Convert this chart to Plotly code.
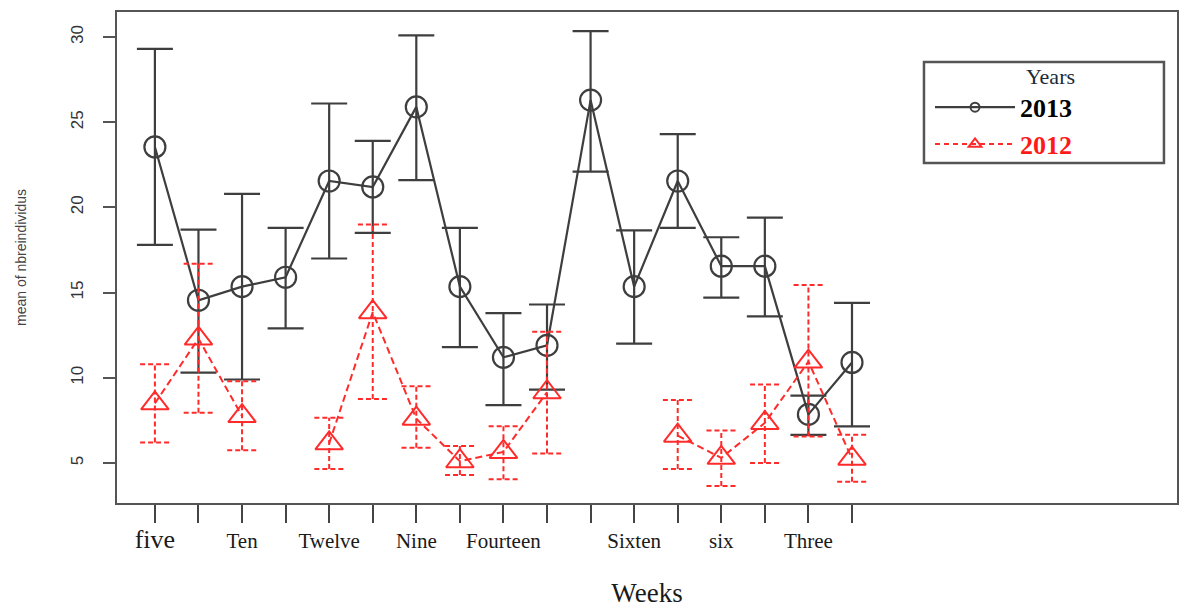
import plotly.graph_objects as go

# ---- data ----
weeks_pos = list(range(1, 18))
week_labels = ["five", "", "Ten", "", "Twelve", "", "Nine", "", "Fourteen", "", "",
               "Sixten", "", "six", "", "Three", ""]

mean_2013 = [23.55, 14.55, 15.35, 15.9, 21.55, 21.2, 25.9, 15.35, 11.2, 11.9, 26.3,
             15.35, 21.55, 16.55, 16.55, 7.85, 10.9]
upper_2013 = [29.3, 18.7, 20.8, 18.8, 26.1, 23.9, 30.1, 18.8, 13.8, 14.3, 30.35,
              18.65, 24.3, 18.25, 19.4, 8.95, 14.4]
lower_2013 = [17.8, 10.3, 9.9, 12.9, 17.0, 18.5, 21.6, 11.8, 8.4, 9.3, 22.1,
              12.0, 18.8, 14.7, 13.6, 6.65, 7.15]

mean_2012 = [8.5, 12.3, 7.75, None, 6.15, 13.85, 7.6, 5.1, 5.65, 9.15, None,
             None, 6.6, 5.3, 7.35, 10.95, 5.25]
upper_2012 = [10.8, 16.7, 9.8, None, 7.65, 19.0, 9.5, 6.0, 7.15, 12.7, None,
              None, 8.7, 6.9, 9.6, 15.45, 6.65]
lower_2012 = [6.2, 7.95, 5.75, None, 4.65, 8.75, 5.9, 4.3, 4.05, 5.55, None,
              None, 4.65, 3.65, 5.0, 6.55, 3.9]

y_ticks = [5, 10, 15, 20, 25, 30]

BLACK = "#3e3e3e"
RED = "#ff2b2b"
SERIF = "Liberation Serif"
SANS = "Liberation Sans"

fig = go.Figure()

# 2013 series with native error bars
fig.add_trace(go.Scatter(
    x=weeks_pos, y=mean_2013, mode="lines+markers", showlegend=False,
    line=dict(color=BLACK, width=2.2),
    marker=dict(symbol="circle-open", size=21, color=BLACK, line=dict(width=2.2)),
    error_y=dict(type="data", symmetric=False,
                 array=[u - m for u, m in zip(upper_2013, mean_2013)],
                 arrayminus=[m - l for m, l in zip(mean_2013, lower_2013)],
                 color=BLACK, thickness=2.2, width=18),
))

# 2012 dashed error bars, built from the data arrays
cap = 0.34
ex, ey = [], []
for xp, lo, hi in zip(weeks_pos, lower_2012, upper_2012):
    if lo is None:
        continue
    ex += [xp, xp, None, xp - cap, xp + cap, None, xp - cap, xp + cap, None]
    ey += [lo, hi, None, hi, hi, None, lo, lo, None]
fig.add_trace(go.Scatter(
    x=ex, y=ey, mode="lines", showlegend=False, hoverinfo="skip",
    line=dict(color=RED, width=2, dash="5px,3px"),
))

# 2012 series
fig.add_trace(go.Scatter(
    x=weeks_pos, y=mean_2012, mode="lines+markers", showlegend=False,
    connectgaps=False,
    line=dict(color=RED, width=2, dash="7px,4px"),
    marker=dict(symbol="triangle-up-open", size=24, color=RED, line=dict(width=2)),
))

# legend entries
fig.add_trace(go.Scatter(
    x=[None], y=[None], mode="lines+markers", name="<b>2013</b>",
    line=dict(color=BLACK, width=2.2),
    marker=dict(symbol="circle-open", size=9, color=BLACK, line=dict(width=2)),
))
fig.add_trace(go.Scatter(
    x=[None], y=[None], mode="lines+markers",
    name="<span style='color:#ff1a1a'><b>2012</b></span>",
    line=dict(color=RED, width=2, dash="5px,4px"),
    marker=dict(symbol="triangle-up-open", size=11, color=RED, line=dict(width=2)),
))

fig.update_layout(
    width=1180, height=608,
    margin=dict(l=117, r=3, t=12, b=105, autoexpand=False),
    plot_bgcolor="white", paper_bgcolor="white",
    showlegend=True,
    legend=dict(
        x=0.767, y=0.912, xanchor="left", yanchor="top",
        bgcolor="rgba(0,0,0,0)", borderwidth=0,
        itemwidth=80, itemsizing="trace",
        font=dict(family=SERIF, size=26, color="black"),
        title=dict(text="Years", side="top right",
                   font=dict(family=SERIF, size=22, color="#1c2a3a")),
        tracegroupgap=0,
    ),
    shapes=[dict(type="rect", xref="paper", yref="paper",
                 x0=0.7613, x1=0.9877, y0=0.6925, y1=0.8982,
                 line=dict(color="#555555", width=2.5), fillcolor="rgba(0,0,0,0)",
                 layer="above")],
)

fig.update_xaxes(
    automargin=False,
    range=[0.13, 24.46], tickmode="array", tickvals=weeks_pos,
    ticktext=["<span style='font-size:26px'>" + week_labels[0] + "</span>"] + week_labels[1:],
    ticks="outside", ticklen=18, tickwidth=1.6, tickcolor="#444",
    showline=True, mirror=True, linecolor="#555", linewidth=2,
    showgrid=False, zeroline=False,
    tickfont=dict(family=SERIF, size=21, color="#1a1a1a"),
    title=dict(text="Weeks", font=dict(family=SERIF, size=27, color="#1a1a1a"), standoff=30),
)
fig.update_yaxes(
    automargin=False,
    range=[2.65, 31.47], tickmode="array", tickvals=y_ticks,
    tickangle=-90, ticklabelstandoff=13,
    ticks="outside", ticklen=12, tickwidth=1.6, tickcolor="#555",
    showline=True, mirror=True, linecolor="#555", linewidth=2,
    showgrid=False, zeroline=False,
    tickfont=dict(family=SANS, size=17, color="#333"),
    title=dict(text="mean of nbreindividus", font=dict(family=SANS, size=14, color="#444"),
               standoff=38),
)

fig.write_html("out.html",
               config={"displayModeBar": False},
               post_script="document.body.style.margin='0px';"
                           "document.body.style.overflow='hidden';")
